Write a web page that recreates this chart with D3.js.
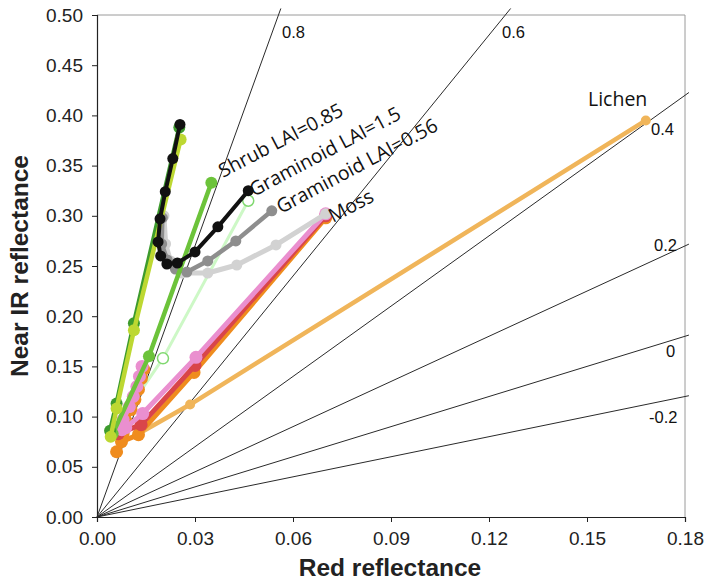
<!DOCTYPE html>
<html><head><meta charset="utf-8">
<script src="https://cdn.jsdelivr.net/npm/d3@7"></script>
<style>
html,body{margin:0;padding:0;background:#fff;}
svg{display:block;}
</style></head>
<body>
<svg id="chart" width="709" height="583"></svg>
<script>
// ---- data ----
const xTicks = [0, 0.03, 0.06, 0.09, 0.12, 0.15, 0.18];
const yTicks = [0, 0.05, 0.10, 0.15, 0.20, 0.25, 0.30, 0.35, 0.40, 0.45, 0.50];
const ndviValues = [0.8, 0.6, 0.4, 0.2, 0, -0.2];
const ndviLabels = ["0.8", "0.6", "0.4", "0.2", "0", "-0.2"];

const lightGreenPts = [[0.0055,0.088],[0.0202,0.158],[0.0463,0.315]];
const lichenPts = [[0.0127,0.083],[0.0285,0.112],[0.168,0.395]];
const orangeColPts = [[0.0080,0.083],[0.0090,0.095],[0.0104,0.107],[0.0116,0.117],[0.0127,0.127],[0.0136,0.138],[0.0143,0.147]];
const orangePts = [[0.0060,0.065],[0.0075,0.075],[0.0127,0.082],[0.0297,0.144],[0.0700,0.298]];
const redPts = [[0.0065,0.083],[0.0135,0.092],[0.0300,0.151],[0.0700,0.300]];
const pinkColPts = [[0.0076,0.087],[0.0080,0.097],[0.0099,0.110],[0.0111,0.120],[0.0122,0.130],[0.0130,0.140],[0.0138,0.150]];
const pinkPts = [[0.0088,0.089],[0.0140,0.103],[0.0303,0.159],[0.0700,0.302]];
const lightGrayPts = [[0.0205,0.300],[0.0210,0.272],[0.0225,0.255],[0.0260,0.243],[0.0339,0.243],[0.0428,0.251],[0.0548,0.271],[0.0700,0.302]];
const darkGrayPts = [[0.0200,0.298],[0.0198,0.272],[0.0215,0.256],[0.0240,0.247],[0.0275,0.244],[0.0339,0.255],[0.0425,0.275],[0.0535,0.305]];
const shrubPts = [[0.0048,0.083],[0.0159,0.160],[0.0350,0.333]];
const darkGreenPts = [[0.0040,0.086],[0.0060,0.113],[0.0113,0.193],[0.0252,0.388]];
const yellowGreenPts = [[0.0042,0.080],[0.0060,0.108],[0.0113,0.186],[0.0256,0.376]];
const blackPts = [[0.0254,0.391],[0.0232,0.357],[0.0209,0.324],[0.0193,0.297],[0.0187,0.274],[0.0195,0.260],[0.0214,0.252],[0.0246,0.253],[0.0300,0.264],[0.0370,0.289],[0.0463,0.325]];

const seriesLabels = ["Shrub LAI=0.85", "Graminoid LAI=1.5", "Graminoid LAI=0.56", "Moss", "Lichen"];

// ---- layout ----
const L = 97, R = 685, T = 15, B = 517;
const svg = d3.select("#chart");
const x = d3.scaleLinear().domain([0, 0.18]).range([L, R]);
const y = d3.scaleLinear().domain([0, 0.5]).range([B, T]);

// frame (top/right gray)
svg.append("path").attr("d", `M${L},${T}H${R}V${B}`).attr("fill","none").attr("stroke","#9a9a9a").attr("stroke-width",1);

// NDVI isolines
const isoG = svg.append("g");
ndviValues.forEach((v, i) => {
  const k = (1 + v) / (1 - v);
  const xmax = 0.1812, ymax = 0.5065;
  let ex = xmax, ey = k * xmax;
  if (ey > ymax) { ey = ymax; ex = ymax / k; }
  isoG.append("line").attr("x1", x(0)).attr("y1", y(0)).attr("x2", x(ex)).attr("y2", y(ey))
    .attr("stroke","#2a2a2a").attr("stroke-width",1);
});
const isoLabelPos = [[282,38],[502,38],[651,135],[654,251],[666,357],[649,423]];
ndviLabels.forEach((t, i) => {
  isoG.append("text").attr("x", isoLabelPos[i][0]).attr("y", isoLabelPos[i][1])
    .attr("font-family","Liberation Sans, Arial, sans-serif").attr("font-size",16.5).attr("fill","#111").text(t);
});

// axes
const yAxis = d3.axisLeft(y).tickValues(yTicks).tickFormat(d3.format(".2f")).tickSize(5).tickPadding(9);
const xAxis = d3.axisBottom(x).tickValues(xTicks).tickFormat(d3.format(".2f")).tickSize(5).tickPadding(10);
const gy = svg.append("g").attr("transform", `translate(${L},0)`).call(yAxis);
const gx = svg.append("g").attr("transform", `translate(0,${B})`).call(xAxis);
[gx, gy].forEach(g => {
  g.select(".domain").attr("stroke","#222").attr("stroke-width",1.2);
  g.selectAll(".tick line").attr("stroke","#222");
  g.selectAll("text").attr("font-family","Liberation Sans, Arial, sans-serif").attr("font-size",19).attr("fill","#222");
});

svg.append("text").attr("x", 390).attr("y", 576).attr("text-anchor","middle")
  .attr("font-family","Liberation Sans, Arial, sans-serif").attr("font-weight","bold").attr("font-size",24.5).attr("fill","#222")
  .text("Red reflectance");
svg.append("text").attr("transform","translate(28,266) rotate(-90)").attr("text-anchor","middle")
  .attr("font-family","Liberation Sans, Arial, sans-serif").attr("font-weight","bold").attr("font-size",24.5).attr("fill","#222")
  .text("Near IR reflectance");

// series
const line = d3.line().x(d => x(d[0])).y(d => y(d[1]));
const dataG = svg.append("g");
function drawSeries(pts, color, lw, r, hollow) {
  dataG.append("path").attr("d", line(pts)).attr("fill","none").attr("stroke",color)
    .attr("stroke-width",lw).attr("stroke-linejoin","round").attr("stroke-linecap","round");
  dataG.selectAll(null).data(pts).enter().append("circle")
    .attr("cx", d => x(d[0])).attr("cy", d => y(d[1])).attr("r", r)
    .attr("fill", hollow ? "#fff" : color).attr("stroke", hollow ? hollow : "none").attr("stroke-width", hollow ? 1.5 : 0);
}
drawSeries(lightGreenPts, "#cdf8c6", 3, 5.5, "#80d870");
drawSeries(lichenPts, "#f0b55a", 4.5, 5);
drawSeries(orangeColPts, "#ef8c1e", 5, 6.5);
drawSeries(orangePts, "#ef8c1e", 5, 6.5);
drawSeries(redPts, "#d9454a", 5, 6.5);
drawSeries(pinkColPts, "#ea8fcf", 5, 6.5);
drawSeries(pinkPts, "#ea8fcf", 5, 6.5);
drawSeries(lightGrayPts, "#d2d2d2", 5, 5.5);
drawSeries(darkGrayPts, "#8e8e8e", 4.5, 5.5);
drawSeries(shrubPts, "#6cc33a", 4.5, 6);
drawSeries(darkGreenPts, "#3d9b2d", 4.5, 6);
drawSeries(yellowGreenPts, "#bdd832", 4.5, 6);
drawSeries(blackPts, "#111", 4, 5.5);

// series labels
const labelFont = "Open Sans, Lato, sans-serif";
const labelPos = [[223,178,-27.5],[254,197,-28],[281,214,-28],[333,223,-28],[588,106,0]];
seriesLabels.forEach((t, i) => {
  const p = labelPos[i];
  svg.append("text").attr("transform", `translate(${p[0]},${p[1]}) rotate(${p[2]})`)
    .attr("font-family", labelFont).attr("font-size", 19.5).attr("fill","#111").text(t);
});
</script>
</body></html>
